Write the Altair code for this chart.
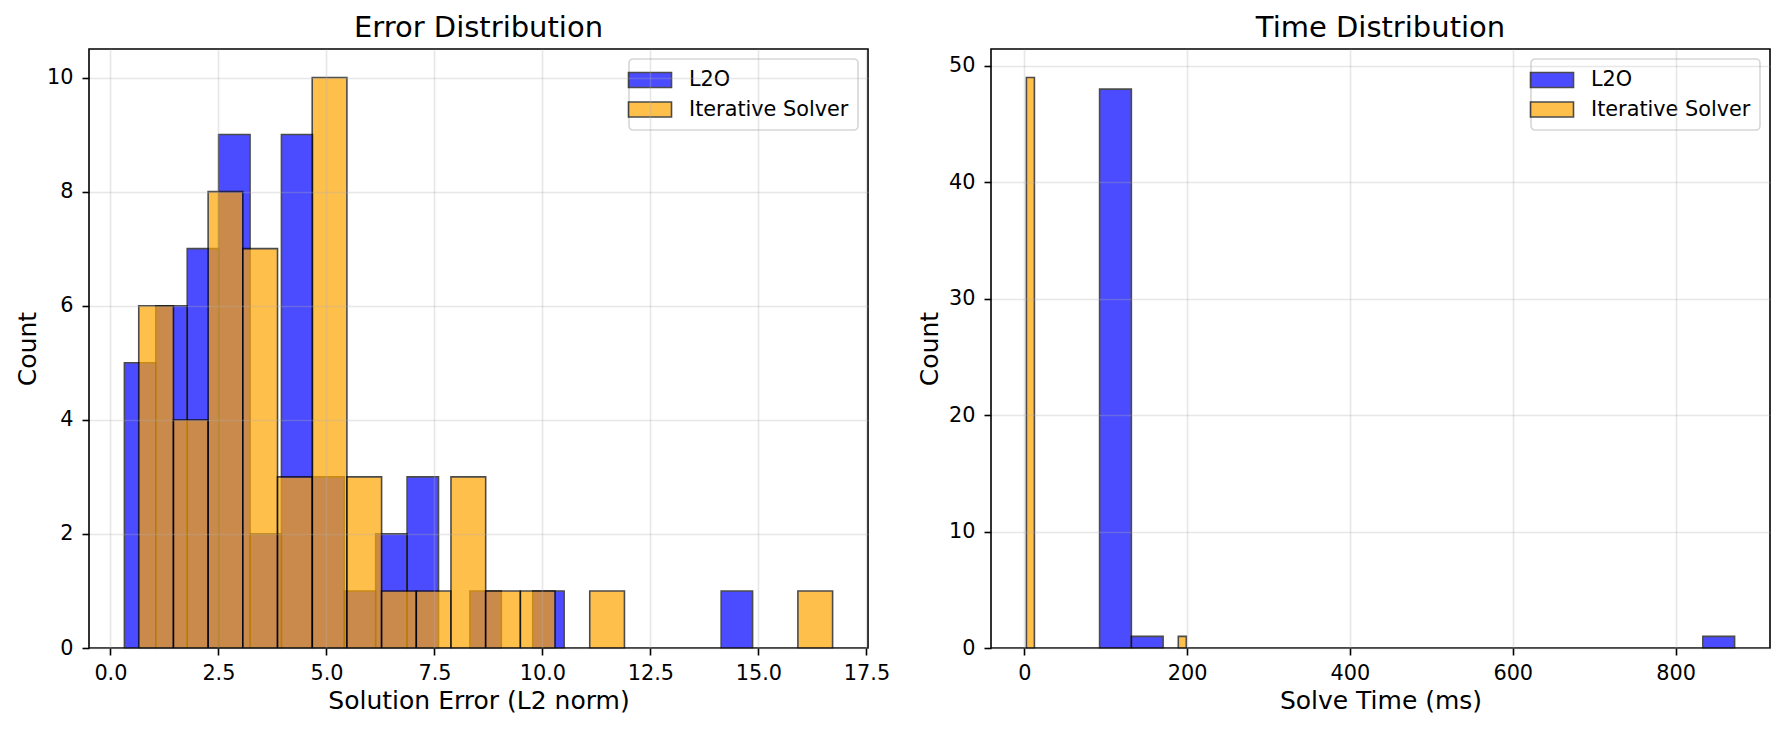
import altair as alt
import pandas as pd

FONT = "DejaVu Sans"
N_BINS = 20
SERIES = ["L2O", "Iterative Solver"]
COLORS = ["#0000ff", "#ffa500"]

# Solution error (L2 norm): histogram range and counts per bin
err_l2o_range = [0.324, 14.864]
err_l2o_counts = [5, 6, 7, 9, 2, 9, 3, 1, 2, 3, 0, 1, 0, 1, 0, 0, 0, 0, 0, 1]
err_iter_range = [0.656, 16.716]
err_iter_counts = [6, 4, 8, 7, 3, 10, 3, 1, 1, 3, 1, 1, 0, 1, 0, 0, 0, 0, 0, 1]

# Solve time (ms): histogram range and counts per bin
time_l2o_range = [92.5, 872.5]
time_l2o_counts = [48, 1, 0, 0, 0, 0, 0, 0, 0, 0, 0, 0, 0, 0, 0, 0, 0, 0, 0, 1]
time_iter_range = [2.6, 199.0]
time_iter_counts = [49, 0, 0, 0, 0, 0, 0, 0, 0, 0, 0, 0, 0, 0, 0, 0, 0, 0, 0, 1]

# Axis ticks
err_x_ticks = [0.0, 2.5, 5.0, 7.5, 10.0, 12.5, 15.0, 17.5]
err_y_ticks = [0, 2, 4, 6, 8, 10]
time_x_ticks = [0, 200, 400, 600, 800]
time_y_ticks = [0, 10, 20, 30, 40, 50]

W, H = 779, 599
# wide legend patch: 2 units wide per sqrt(size)/2 half-unit scale -> 4x1.4 box
PATCH = "M-2,-0.7H2V0.7H-2Z"
PATCH_SCALE = 21.5


def bins_table(name, rng, counts):
    lo, hi = rng
    step = (hi - lo) / N_BINS
    return [
        {"series": name, "start": lo + k * step, "end": lo + (k + 1) * step, "count": c}
        for k, c in enumerate(counts)
        if c > 0
    ]


def panel(title, xlabel, l2o_rng, l2o_counts, it_rng, it_counts, xticks, yticks, xfmt):
    rows = bins_table(SERIES[0], l2o_rng, l2o_counts) + bins_table(SERIES[1], it_rng, it_counts)
    df = pd.DataFrame(rows)
    lo = min(l2o_rng[0], it_rng[0])
    hi = max(l2o_rng[1], it_rng[1])
    margin = 0.05 * (hi - lo)
    xdom = [lo - margin, hi + margin]
    ymax = 1.05 * max(max(l2o_counts), max(it_counts))

    common = dict(
        zindex=1, grid=True, gridColor="#b0b0b0", gridOpacity=0.3, gridWidth=1.6,
        domain=False, ticks=True, tickSize=7, tickWidth=1.6, tickColor="black",
        labelFont=FONT, labelFontSize=20.8, labelColor="black",
        labelFlush=False, labelOverlap=False,
        titleFont=FONT, titleFontSize=25, titleFontWeight="normal", titleColor="black",
        titleBaseline="alphabetic", titleAlign="center",
    )
    x_axis = alt.Axis(values=xticks, format=xfmt, title=xlabel, labelPadding=24,
                      labelBaseline="alphabetic", titleX=W / 2, titleY=60, **common)
    y_axis = alt.Axis(values=yticks, format="d", title="Count", labelPadding=9,
                      titleAngle=270, titleX=-53.7, titleY=H / 2, **common)

    base = alt.Chart(df).mark_rect(opacity=0.7, stroke="black", strokeWidth=1.6).encode(
        x=alt.X("start:Q", scale=alt.Scale(domain=xdom, nice=False, zero=False), axis=x_axis),
        x2="end:Q",
        y=alt.Y("count:Q", scale=alt.Scale(domain=[0, ymax], nice=False), axis=y_axis),
        y2=alt.datum(0),
        color=alt.Color(
            "series:N",
            scale=alt.Scale(domain=SERIES, range=COLORS),
            legend=alt.Legend(
                title=None, orient="top-right", offset=10,
                symbolType=PATCH, symbolSize=PATCH_SCALE * PATCH_SCALE,
                symbolStrokeColor="black", symbolStrokeWidth=1.6, symbolOpacity=0.7,
                labelFont=FONT, labelFontSize=20.8, labelColor="black", labelLimit=0,
                labelOffset=27, rowPadding=6.5, padding=9,
                strokeColor="#d6d6d6", fillColor="white", cornerRadius=4,
            ),
        ),
    )
    layers = [base.transform_filter(alt.datum.series == s) for s in SERIES]
    return alt.layer(*layers).properties(
        width=W, height=H,
        title=alt.TitleParams(title, font=FONT, fontSize=29, fontWeight="normal",
                              color="black", anchor="middle", baseline="alphabetic", offset=-17),
    )


left = panel("Error Distribution", "Solution Error (L2 norm)",
             err_l2o_range, err_l2o_counts, err_iter_range, err_iter_counts,
             err_x_ticks, err_y_ticks, ".1f")
right = panel("Time Distribution", "Solve Time (ms)",
              time_l2o_range, time_l2o_counts, time_iter_range, time_iter_counts,
              time_x_ticks, time_y_ticks, "d")

chart = (
    alt.hconcat(left, right, spacing=25)
    .resolve_scale(color="independent")
    .resolve_legend(color="independent")
    .properties(padding={"left": 14, "top": 13, "right": 0, "bottom": 0}, background="white")
    .configure_view(stroke="black", strokeWidth=1.6)
    .configure_legend(strokeWidth=1.6)
)

chart.save("out.html", embed_options={"renderer": "svg", "actions": False})
